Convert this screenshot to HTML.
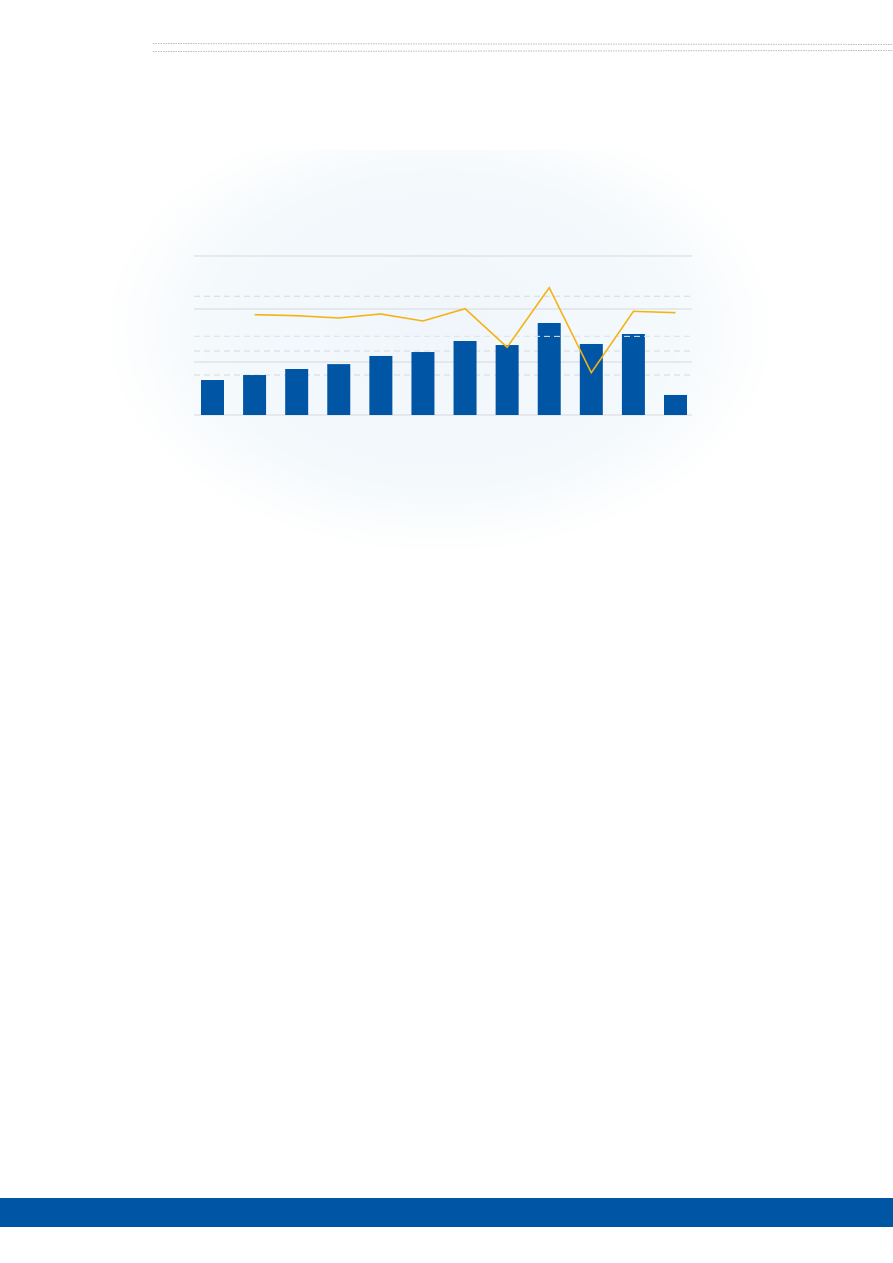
<!DOCTYPE html>
<html><head><meta charset="utf-8"><style>
html,body{margin:0;padding:0;background:#fff;}
body{width:893px;height:1263px;position:relative;overflow:hidden;font-family:"Liberation Sans",sans-serif;}
.glow{position:absolute;left:110px;top:150px;width:660px;height:400px;background:radial-gradient(ellipse at 50% 45%,#f0f6fb 0%,#f4f9fc 50%,rgba(255,255,255,0) 72%);}
.band{position:absolute;left:0;top:1198px;width:893px;height:29px;background:#0055a4;}
</style></head><body>
<div class="glow"></div>
<svg width="893" height="1263" style="position:absolute;left:0;top:0">
<line x1="153" y1="43.5" x2="893" y2="44.5" stroke="#bbb" stroke-width="1" stroke-dasharray="1.5,1"/>
<line x1="153" y1="51.5" x2="893" y2="50.5" stroke="#bbb" stroke-width="1" stroke-dasharray="1.5,1"/>
<g id="chart"></g>
</svg>
<div class="band"></div>
<script>
const categories=["1","2","3","4","5","6","7","8","9","10","11","12"];
const barValues=[33,37.7,43.4,48,55.7,59.4,69.8,66,86.8,67,76.4,18.9];
const lineValues=[null,94.6,93.7,91.5,95.3,88.7,100.3,63.9,120.1,39.9,97.8,96.5];
const solidTicks=[0,50,100,150];
const dashedTicks=[37.7,60.4,74.2,112];
const yMax=150;
const L=194,R=692,T=256,B=415;
const ns="http://www.w3.org/2000/svg";
const g=document.getElementById('chart');
function y(v){return B-(v/yMax)*(B-T);}
const firstC=212.5,lastC=675.5;
const step=(lastC-firstC)/(categories.length-1);
function xc(i){return firstC+step*i;}
function mk(t,a){const e=document.createElementNS(ns,t);for(const k in a)e.setAttribute(k,a[k]);g.appendChild(e);return e;}
solidTicks.forEach(v=>{const e=mk('line',{x1:L,x2:R,y1:y(v),y2:y(v),stroke:'#d6d9dc','stroke-width':1});

});
dashedTicks.forEach(v=>{const e=mk('line',{x1:L,x2:R,y1:y(v),y2:y(v),stroke:'#d6d9dc','stroke-width':1,'stroke-dasharray':'6,4'});

});
const bw=23;
barValues.forEach((v,i)=>{const e=mk('rect',{x:xc(i)-bw/2,y:y(v),width:bw,height:B-y(v),fill:'#0055a4'});

});
const ov=mk('line',{x1:L,x2:R,y1:y(dashedTicks[2]),y2:y(dashedTicks[2]),stroke:'#dfe6ee','stroke-width':1,'stroke-dasharray':'6,4'});


let pts=[];lineValues.forEach((v,i)=>{if(v!==null)pts.push(xc(i)+','+y(v));});
const pl=mk('polyline',{points:pts.join(' '),fill:'none',stroke:'#f5b212','stroke-width':1.6});


</script>
</body></html>
